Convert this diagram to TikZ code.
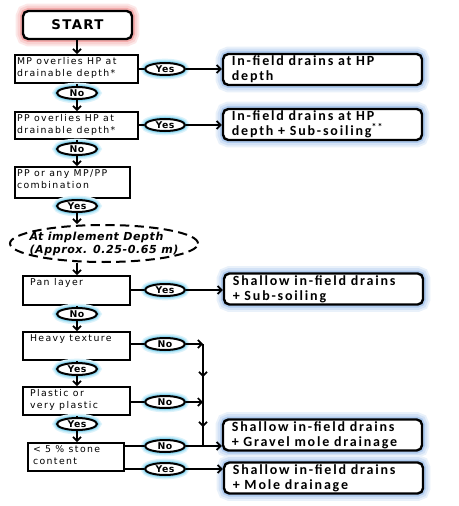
\documentclass[tikz,border=0pt]{standalone}
\usepackage{fontspec}
\setmainfont{DejaVu Sans}
\newfontfamily\boxfont[LetterSpace=15]{DejaVu Sans}
\newfontfamily\resfont[LetterSpace=13]{Carlito}
\newfontfamily\heavyfont[LetterSpace=5]{DejaVu Sans}
\newfontfamily\startfont[LetterSpace=10]{DejaVu Sans}
\usetikzlibrary{shapes.geometric,arrows.meta,calc}
\definecolor{ovglow}{RGB}{80,195,235}
\definecolor{resglow}{RGB}{110,160,225}
\definecolor{stglow}{RGB}{235,105,105}
\newcommand\boxtxt[3]{\parbox[c][#1][t]{#2}{\begin{tabular}[t]{@{}l@{}}#3\end{tabular}}}
\tikzset{
  glowbig/.style={preaction={draw=#1!15,line width=11pt},preaction={draw=#1!30,line width=8pt},preaction={draw=#1!55,line width=4.5pt}},
  glowsmall/.style={preaction={draw=#1!20,line width=6.5pt},preaction={draw=#1!40,line width=4.5pt},preaction={draw=#1!65,line width=3pt}},
  lbox/.style={draw,line width=1.3pt,fill=white,rectangle,inner sep=0pt,font=\boxfont\fontsize{7}{9}\selectfont},
  startbox/.style={draw,line width=1.8pt,fill=white,rounded corners=4pt,inner sep=0pt,minimum width=81.75pt,minimum height=21pt,font=\startfont\bfseries\fontsize{10}{11}\selectfont,glowbig=stglow},
  resbox/.style={draw,line width=1.8pt,fill=white,rounded corners=4pt,inner sep=0pt,minimum width=149.25pt,minimum height=23.25pt,text width=136pt,align=left,font=\resfont\bfseries\fontsize{10.5}{11.25}\selectfont,glowbig=resglow},
  yn/.style={ellipse,draw,line width=1.5pt,fill=white,inner sep=0pt,minimum width=30pt,minimum height=9pt,font=\heavyfont\bfseries\fontsize{7}{7}\selectfont,glowsmall=ovglow},
  impl/.style={ellipse,draw,line width=1.5pt,dash pattern=on 7pt off 4pt,fill=white,inner sep=0pt,minimum width=141pt,minimum height=27.75pt},
  impltext/.style={align=left,inner sep=0pt,font=\heavyfont\bfseries\itshape\fontsize{8.3}{9.8}\selectfont},
  arr/.style={line width=1.3pt,-{Straight Barb[length=3pt,width=6pt]}},
  ln/.style={line width=1.3pt}
}
\begin{document}
\begin{tikzpicture}[x=0.75pt,y=-0.75pt]
\useasboundingbox (0,0) rectangle (459,506);
% nodes
\node[startbox] (start) at (77.5,25) {START};
\node[lbox,minimum width=92.25pt,minimum height=21pt] (b1) at (76.5,69) {\boxtxt{20pt}{89.25pt}{MP overlies HP at\\drainable depth*}};
\node[yn] (y1) at (165,69) {Yes};
\node[resbox] (r1) at (322.5,69.5) {In-field drains at HP\\depth};
\node[yn] (n1) at (77,93) {No};
\node[lbox,minimum width=92.25pt,minimum height=20.25pt] (b2) at (76.5,125.5) {\boxtxt{19pt}{89.25pt}{PP overlies HP at\\drainable depth*}};
\node[yn] (y2) at (165,125) {Yes};
\node[resbox] (r2) at (322.5,124.5) {In-field drains at HP\\depth + Sub-soiling\textsuperscript{**}};
\node[yn] (n2) at (77,149) {No};
\node[lbox,minimum width=86.25pt,minimum height=23.25pt] (b3) at (72.5,182.5) {\boxtxt{22pt}{83.25pt}{PP or any MP/PP\\combination}};
\node[yn] (y3) at (77,206) {Yes};
\node[impl,label={[impltext]center:{At implement Depth\\(Approx. 0.25-0.65 m)}}] (e) at (104,243.5) {};
\node[lbox,minimum width=80.25pt,minimum height=21.75pt] (b4) at (76.5,290.5) {\boxtxt{20.5pt}{69.75pt}{Pan layer}};
\node[yn] (y4) at (165,290) {Yes};
\node[resbox] (r3) at (323.5,289) {Shallow in-field drains\\+ Sub-soiling};
\node[yn] (n3) at (77,314) {No};
\node[lbox,minimum width=80.25pt,minimum height=21pt] (b5) at (76.5,346) {\boxtxt{20pt}{69.75pt}{Heavy texture}};
\node[yn] (n4) at (165,344) {No};
\node[yn] (y5) at (77,369) {Yes};
\node[lbox,minimum width=80.25pt,minimum height=21pt] (b6) at (76.5,401) {\boxtxt{20pt}{69.75pt}{Plastic or\\very plastic}};
\node[yn] (n5) at (165,402) {No};
\node[yn] (y6) at (77,424) {Yes};
\node[lbox,minimum width=72pt,minimum height=21pt] (b7) at (76,457) {\boxtxt{20pt}{64.5pt}{< 5 \% stone\\content}};
\node[yn] (n6) at (165,446) {No};
\node[yn] (y7) at (165,469) {Yes};
\node[resbox] (r4) at (322.5,435) {Shallow in-field drains\\+ Gravel mole drainage};
\node[resbox] (r5) at (323.5,478) {Shallow in-field drains\\+ Mole drainage};
\coordinate (v1) at (203,344);
\coordinate (v2) at (203,402);
\coordinate (v3) at (203,446);
\coordinate (m1) at (203,377);
\coordinate (m2) at (203,427);
% connectors
\draw[arr] (start.south -| n1) -- (n1 |- b1.north);
\draw[ln] (n1 |- b1.south) -- (n1.north);
\draw[arr] (n1.south) -- (n1 |- b2.north);
\draw[ln] (b1.east |- y1) -- (y1.west);
\draw[arr] (y1.east) -- (r1.west |- y1);
\draw[ln] (b2.east |- y2) -- (y2.west);
\draw[arr] (y2.east) -- (r2.west |- y2);
\draw[ln] (n2 |- b2.south) -- (n2.north);
\draw[arr] (n2.south) -- (n2 |- b3.north);
\draw[ln] (y3 |- b3.south) -- (y3.north);
\draw[arr] (y3.south) -- (y3 |- e.north);
\draw[arr] (e.south -| n3) -- (n3 |- b4.north);
\draw[ln] (b4.east |- y4) -- (y4.west);
\draw[arr] (y4.east) -- (r3.west |- y4);
\draw[ln] (n3 |- b4.south) -- (n3.north);
\draw[arr] (n3.south) -- (n3 |- b5.north);
\draw[ln] (b5.east |- n4) -- (n4.west);
\draw[arr] (n4.east) -- (v1);
\draw[ln] (v1) -- (v3);
\draw[arr] (v1) -- (m1);
\draw[arr] (v2) -- (m2);
\draw[ln] (y5 |- b5.south) -- (y5.north);
\draw[arr] (y5.south) -- (y5 |- b6.north);
\draw[ln] (b6.east |- n5) -- (n5.west);
\draw[arr] (n5.east) -- (v2);
\draw[ln] (y6 |- b6.south) -- (y6.north);
\draw[arr] (y6.south) -- (y6 |- b7.north);
\draw[ln] (b7.east |- n6) -- (n6.west);
\draw[arr] (n6.east) -- (r4.west |- n6);
\draw[ln] (b7.east |- y7) -- (y7.west);
\draw[arr] (y7.east) -- (r5.west |- y7);
\end{tikzpicture}
\end{document}
